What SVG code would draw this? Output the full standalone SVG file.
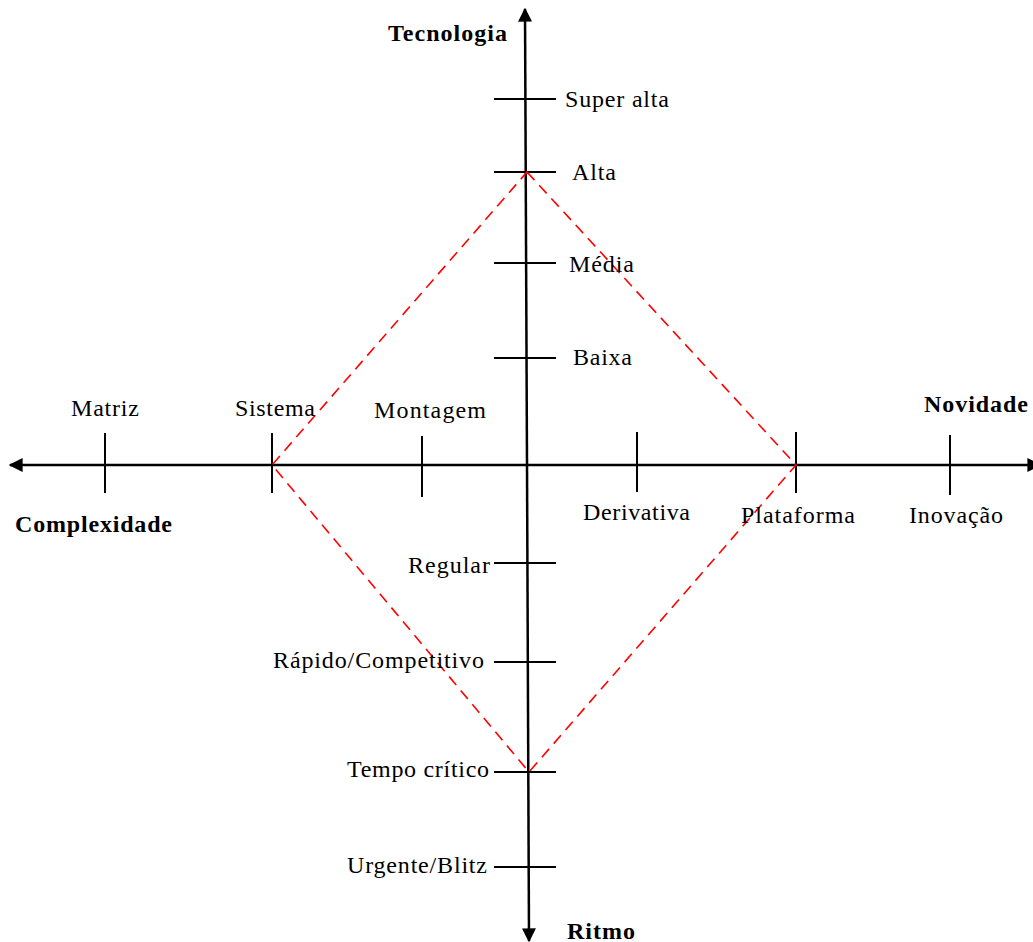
<svg xmlns="http://www.w3.org/2000/svg" width="1033" height="942" viewBox="0 0 1033 942">
  <style>
    .axis { stroke: #000; stroke-width: 2.5; fill: none; }
    .tick { stroke: #000; stroke-width: 2; fill: none; }
    .frame { stroke: #ff0000; stroke-width: 1.6; fill: none; stroke-dasharray: 11 7; }
    .lbl { font-family: "Liberation Serif", "Times New Roman", serif; font-size: 24px; fill: #000; }
    .ttl { font-family: "Liberation Serif", "Times New Roman", serif; font-size: 24px; font-weight: bold; fill: #000; }
  </style>
  <defs>
    <marker id="head" viewBox="0 0 10 10" refX="9" refY="5" markerWidth="14" markerHeight="14" markerUnits="userSpaceOnUse" orient="auto">
      <path d="M0,0 L10,5 L0,10 Z" fill="#000"/>
    </marker>
  </defs>
  <rect width="1033" height="942" fill="#fff"/>

  <!-- axes and tick marks -->
  <g id="connectors">
    <line class="axis" x1="527" y1="465" x2="525" y2="9" marker-end="url(#head)"/>
    <line class="axis" x1="527" y1="465" x2="529" y2="941" marker-end="url(#head)"/>
    <line class="axis" x1="527" y1="465" x2="10" y2="465" marker-end="url(#head)"/>
    <line class="axis" x1="527" y1="465" x2="1040" y2="465" marker-end="url(#head)"/>

    <line class="tick" x1="494" y1="99" x2="556" y2="99"/>
    <line class="tick" x1="494" y1="172" x2="556" y2="172"/>
    <line class="tick" x1="494" y1="263" x2="556" y2="263"/>
    <line class="tick" x1="494" y1="358" x2="556" y2="358"/>
    <line class="tick" x1="494" y1="563" x2="556" y2="563"/>
    <line class="tick" x1="494" y1="662" x2="556" y2="662"/>
    <line class="tick" x1="494" y1="772" x2="556" y2="772"/>
    <line class="tick" x1="494" y1="867" x2="556" y2="867"/>

    <line class="tick" x1="105" y1="433" x2="105" y2="493"/>
    <line class="tick" x1="272" y1="433" x2="272" y2="493"/>
    <line class="tick" x1="422" y1="436" x2="422" y2="497"/>
    <line class="tick" x1="637" y1="432" x2="637" y2="492"/>
    <line class="tick" x1="796" y1="432" x2="796" y2="493"/>
    <line class="tick" x1="950" y1="435" x2="950" y2="495"/>

    <!-- dashed profile -->
    <path class="frame" d="M527,172 L796,465 L529,772 L272,465 Z"/>
  </g>

  <!-- axis titles -->
  <g id="title-tecnologia"><text class="ttl" x="388" y="41" textLength="119" lengthAdjust="spacing">Tecnologia</text></g>
  <g id="title-novidade"><text class="ttl" x="924" y="412" textLength="104" lengthAdjust="spacing">Novidade</text></g>
  <g id="title-complexidade"><text class="ttl" x="15" y="532" textLength="157" lengthAdjust="spacing">Complexidade</text></g>
  <g id="title-ritmo"><text class="ttl" x="567" y="939" textLength="68" lengthAdjust="spacing">Ritmo</text></g>

  <!-- technology levels -->
  <g id="node-super-alta"><text class="lbl" x="565" y="107" textLength="104" lengthAdjust="spacing">Super alta</text></g>
  <g id="node-alta"><text class="lbl" x="572" y="180" textLength="44" lengthAdjust="spacing">Alta</text></g>
  <g id="node-media"><text class="lbl" x="569" y="272" textLength="65" lengthAdjust="spacing">Média</text></g>
  <g id="node-baixa"><text class="lbl" x="573" y="365" textLength="59" lengthAdjust="spacing">Baixa</text></g>

  <!-- complexity levels -->
  <g id="node-matriz"><text class="lbl" x="71" y="416" textLength="68" lengthAdjust="spacing">Matriz</text></g>
  <g id="node-sistema"><text class="lbl" x="235" y="416" textLength="80" lengthAdjust="spacing">Sistema</text></g>
  <g id="node-montagem"><text class="lbl" x="374" y="418" textLength="112" lengthAdjust="spacing">Montagem</text></g>

  <!-- novelty levels -->
  <g id="node-derivativa"><text class="lbl" x="583" y="520" textLength="107" lengthAdjust="spacing">Derivativa</text></g>
  <g id="node-plataforma"><text class="lbl" x="741" y="523" textLength="114" lengthAdjust="spacing">Plataforma</text></g>
  <g id="node-inovacao"><text class="lbl" x="909" y="523" textLength="94" lengthAdjust="spacing">Inovação</text></g>

  <!-- pace levels -->
  <g id="node-regular"><text class="lbl" x="408" y="573" textLength="82" lengthAdjust="spacing">Regular</text></g>
  <g id="node-rapido"><text class="lbl" x="273" y="668" textLength="211" lengthAdjust="spacing">Rápido/Competitivo</text></g>
  <g id="node-tempo-critico"><text class="lbl" x="347" y="777" textLength="142" lengthAdjust="spacing">Tempo crítico</text></g>
  <g id="node-urgente"><text class="lbl" x="347" y="873" textLength="140" lengthAdjust="spacing">Urgente/Blitz</text></g>
</svg>
